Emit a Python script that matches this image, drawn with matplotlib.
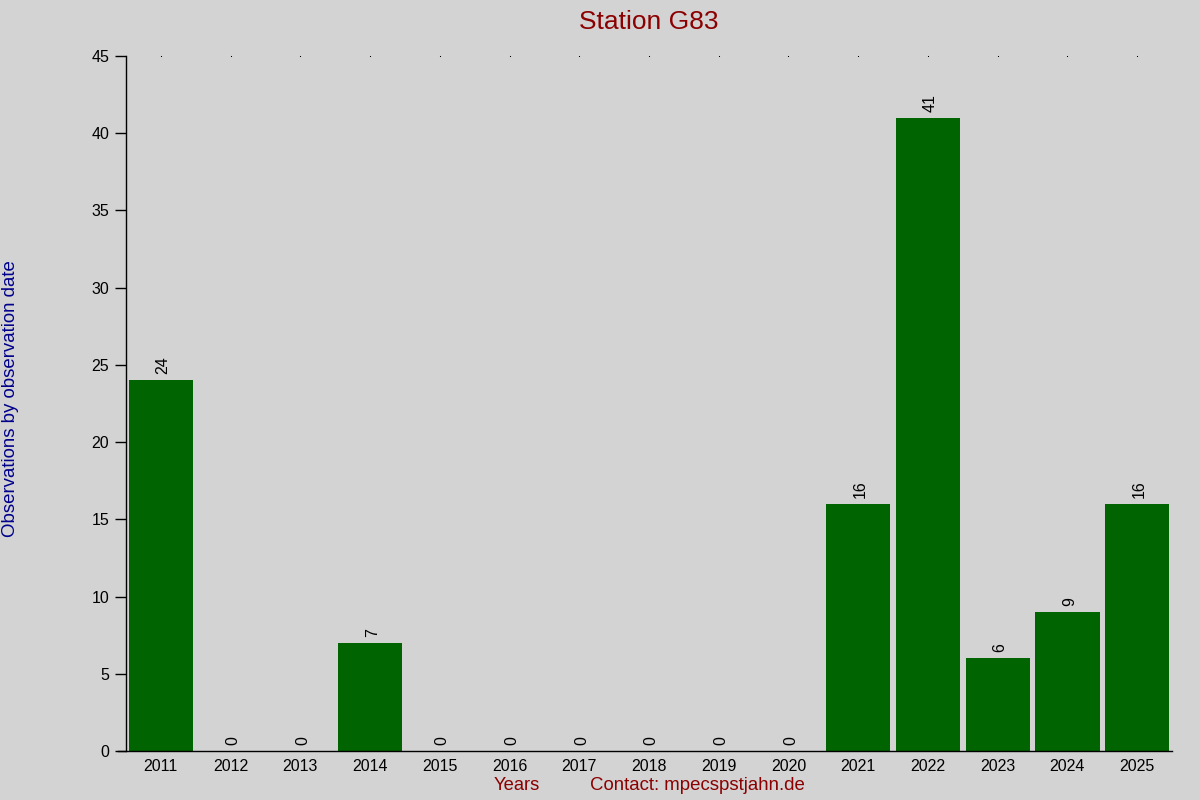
import matplotlib
matplotlib.use("Agg")
import matplotlib.pyplot as plt

years = ["2011", "2012", "2013", "2014", "2015", "2016", "2017", "2018",
         "2019", "2020", "2021", "2022", "2023", "2024", "2025"]
counts = [24, 0, 0, 7, 0, 0, 0, 0, 0, 0, 16, 41, 6, 9, 16]

plt.rcParams["font.family"] = ["Liberation Sans", "DejaVu Sans"]

bg = "#d3d3d3"
fig = plt.figure(figsize=(12, 8), dpi=100, facecolor=bg)
ax = fig.add_axes([0.105, 0.06125, 0.8717, 0.86875])
ax.set_facecolor(bg)

x = list(range(len(years)))
ax.bar(x, counts, width=0.92, color="#006400")

# kleine Punkte oben an jeder Kategorie
ax.plot(x, [45] * len(x), linestyle="none", marker="s", markersize=0.75,
        color="black", markeredgewidth=0, antialiased=False, clip_on=False)

for xi, c in zip(x, counts):
    ax.text(xi + 0.03, c + 0.4, str(c), rotation=90, ha="center", va="bottom",
            fontsize=11.5)

ax.set_xlim(-0.5, len(years) - 0.5)
ax.set_ylim(0, 45)
ax.set_yticks(range(0, 46, 5))
ax.set_xticks(x)
ax.set_xticklabels(years)
ax.tick_params(axis="x", length=0, labelsize=11.5, pad=6)
ax.tick_params(axis="y", length=8, width=1, labelsize=11.5, pad=4)

for side in ["top", "right"]:
    ax.spines[side].set_visible(False)
ax.spines["bottom"].set_bounds(-0.62, len(years) - 0.5)
ax.spines["left"].set_linewidth(1)
ax.spines["bottom"].set_linewidth(1)

fig.text(0.541, 0.973, "Station G83", color="#8b0000", fontsize=19, ha="center", va="center")
fig.text(0.009, 0.502, "Observations by observation date", color="#00008b",
         fontsize=13.4, rotation=90, ha="center", va="center")
fig.text(0.431, 0.018, "Years", color="#8b0000", fontsize=13.2, ha="center", va="center")
fig.text(0.581, 0.018, "Contact: mpecspstjahn.de", color="#8b0000", fontsize=13.4,
         ha="center", va="center")

fig.savefig("out.png", dpi=100, facecolor=bg)
